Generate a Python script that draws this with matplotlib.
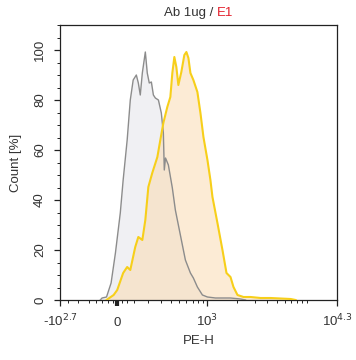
import numpy as np
import matplotlib
matplotlib.use('Agg')
import matplotlib.pyplot as plt

plt.rcParams['font.family'] = ['Liberation Sans', 'DejaVu Sans']

# control (gray) histogram, PE-H vs count %
ctrl_x = [-116, -103, -72, -41, -12, 18, 35, 59, 78, 96, 116, 129, 142, 156, 177,
          191, 206, 222, 238, 254, 280, 306, 325, 334, 346, 375, 418, 453, 516,
          586, 664, 714, 787, 888, 1001, 1209, 1718, 2166, 2433]
ctrl_y = [0, 0.8, 1.2, 6.8, 18.8, 34.8, 48, 64, 80, 88, 90, 86.8, 82, 90.8, 99.2,
          90.8, 86.8, 87.2, 82, 80.8, 80, 74.8, 66.8, 52, 56.8, 54, 44.8, 36, 26,
          16, 10.8, 8.8, 5.2, 2, 1.2, 0.8, 0.8, 0.4, 0]

# E1 (yellow) histogram
e1_x = [-72, -53, -24, 0, 35, 59, 78, 109, 129, 156, 177, 199, 229, 271, 297, 325,
        364, 396, 418, 441, 465, 490, 529, 571, 601, 632, 664, 714, 787, 847, 910,
        1001, 1074, 1127, 1267, 1425, 1565, 1718, 1841, 2020, 2322, 2732, 3441,
        4335, 5456, 6871, 7709]
e1_y = [0, 0.8, 2, 4, 10.8, 13.2, 12, 21.2, 25.2, 24, 32, 45.2, 50.8, 57.2, 64,
        70.8, 77.2, 81.2, 90.8, 97.2, 93.2, 86, 91.2, 98, 99.2, 96.8, 90.8, 88,
        83.2, 74.8, 65.2, 56, 48, 41.2, 30.8, 20, 10.8, 9.2, 5.2, 2, 1.2, 1.2, 0.8,
        0.8, 0.6, 0.4, 0]

xticks = [-501, 0, 1000, 19953]
xticklabels = [r'-10$^{2.7}$', '0', r'10$^{3}$', r'10$^{4.3}$']
xminor = [-400, -300, -200, -150, -100, -60, -30, 30, 60, 100, 200, 300, 400, 500,
          600, 700, 800, 900, 2000, 3000, 4000, 5000, 6000, 7000, 8000, 9000, 10000]


def fwd(x):
    x = np.asarray(x, dtype=float)
    return np.where(x >= 0, np.arcsinh(x / 256.0), np.arcsinh(x / 290.0))


def inv(u):
    u = np.asarray(u, dtype=float)
    return np.where(u >= 0, 256.0 * np.sinh(u), 290.0 * np.sinh(u))


fig = plt.figure(figsize=(3.56, 3.6), dpi=100)
ax = fig.add_axes([60 / 356, 1 - 300 / 360, 277 / 356, 275 / 360])
ax.set_xscale('function', functions=(fwd, inv))

ax.fill_between(ctrl_x, ctrl_y, color='#f0f0f3', lw=0, zorder=1)
ax.fill_between(e1_x, e1_y, color='#fbd9ad', alpha=0.5, lw=0, zorder=2)
ax.plot(ctrl_x, ctrl_y, color='#8c8c8c', lw=1.0, zorder=3)
ax.plot(e1_x, e1_y, color='#f7cf1a', lw=1.5, zorder=4)

ax.set_xlim(-501, 19953)
ax.set_ylim(0, 110)

ax.set_xticks(xticks)
ax.set_xticklabels(xticklabels)
ax.set_xticks(xminor, minor=True)
ax.set_yticks([0, 20, 40, 60, 80, 100])
ax.set_yticks(np.arange(0, 111, 5), minor=True)

ax.tick_params(axis='both', which='major', length=4, width=0.9, labelsize=9.5,
               color='#222222', labelcolor='#333333')
ax.tick_params(axis='both', which='minor', length=2.5, width=0.7, color='#222222')
ax.tick_params(axis='x', which='major', pad=15)
ax.tick_params(axis='y', which='major', pad=6)
for lab in ax.get_xticklabels():
    lab.set_verticalalignment('baseline')
for lab in ax.get_yticklabels():
    lab.set_rotation(90)
    lab.set_verticalalignment('center')
ax.get_xticklines()[2].set_markeredgewidth(3)

for sp in ax.spines.values():
    sp.set_color('#222222')
    sp.set_linewidth(0.9)

ax.set_xlabel('PE-H', fontsize=9.5, color='#333333', labelpad=4)
ax.set_ylabel('Count [%]', fontsize=9.5, color='#333333', labelpad=9)

fig.text(217 / 356, 1 - 13 / 360, 'Ab 1ug / ', ha='right', va='center',
         fontsize=9.5, color='#333333')
fig.text(217 / 356, 1 - 13 / 360, 'E1', ha='left', va='center',
         fontsize=9.5, color='#e3202c')

fig.savefig('out.png', dpi=100)
